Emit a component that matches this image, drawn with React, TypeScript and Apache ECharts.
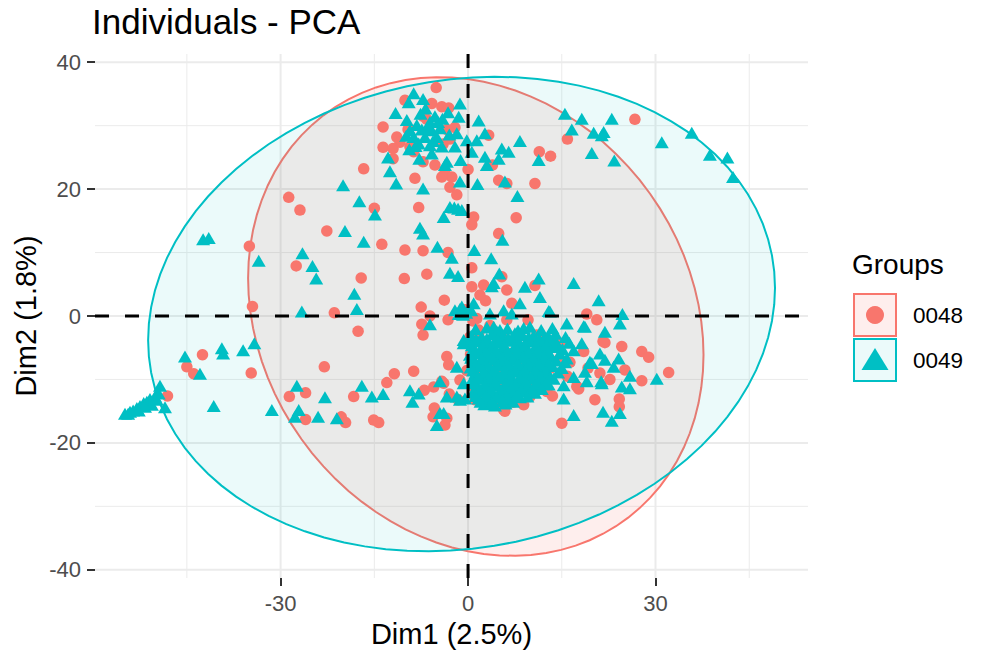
import React, { useEffect, useRef } from "react";
import * as echarts from "echarts";

const groups = ["0048", "0049"];
const colors = ["#F8766D", "#00BFC4"];
const dim1Ticks = [-30, 0, 30];
const dim2Ticks = [-40, -20, 0, 20, 40];
const dim1Minor = [-45, -15, 15, 45];
const dim2Minor = [-30, -10, 10, 30];
const dim1Range = [-59.7, 54.4];
const dim2Range = [-41.3, 41.3];
// ellipse: centre x, centre y, half-width, half-height, cos(phase)
const ellipse0048 = [1.24, -0.08, 36.44, 37.72, -0.16];
const ellipse0049 = [-1.04, 0.31, 50.16, 37.4, 0.11];

const points0048 = [
  [-5.1, 36.0], [-10.1, 34.0], [-5.8, 33.5], [-4.2, 33.0], [-3.1, 32.8], [-7.2, 31.5], [-6.6, 31.0],
  [-13.6, 29.8], [-9.6, 29.4], [-11.4, 28.2], [-10.9, 27.4], [-3.4, 29.4], [-2.1, 29.7], [-2.9, 27.9],
  [-4.0, 27.1], [-13.6, 26.6], [-12.0, 26.4], [-12.0, 24.8], [-9.3, 26.7], [-8.7, 25.9], [-7.2, 24.3],
  [-5.3, 23.8], [-3.7, 22.5], [-2.6, 21.9], [-4.2, 21.9], [-2.9, 20.3], [-1.8, 19.1], [0.0, 23.1],
  [3.3, 28.5], [3.9, 23.8], [4.9, 21.4], [6.2, 20.9], [10.7, 20.9], [11.4, 25.9], [13.2, 25.2],
  [-8.5, 21.7], [-7.9, 17.1], [-16.7, 23.2], [-15.0, 17.0], [-28.7, 18.7], [-26.9, 16.7], [-22.6, 13.4],
  [-13.8, 11.3], [-35.0, 11.0], [-10.1, 10.4], [-7.2, 10.3], [-27.5, 7.9], [-17.1, 6.0], [-10.2, 5.9],
  [-6.6, 6.6], [-3.8, 2.5], [0.6, 7.6], [-34.5, 1.5], [-21.4, 0.5], [-7.5, 1.4], [-6.1, 0.0], [-7.4, -1.3],
  [-17.6, -2.4], [-7.2, -3.0], [-3.2, -0.6], [0.9, 15.6], [0.6, 14.4], [-3.2, 10.0], [0.6, 4.6],
  [26.7, 31.0], [15.9, 27.9], [7.7, 15.5], [4.9, 13.0], [10.7, 4.8], [5.4, 6.2], [19.0, 0.3], [20.6, -0.6],
  [32.1, -8.9], [27.8, -5.6], [28.9, -6.5], [27.8, -10.2], [24.6, -4.8], [25.1, -8.5], [24.2, -13.1],
  [24.2, -14.3], [20.3, -13.2], [15.0, -16.9], [22.7, -10.0], [21.9, -4.2], [21.1, -9.0], [17.7, -11.5],
  [5.9, -15.0], [8.9, -14.0], [9.9, -12.7], [11.0, -3.0], [9.6, -0.6], [14.5, -6.9], [18.5, -5.6],
  [-3.4, -6.4], [-3.1, -7.7], [-3.9, -10.6], [-3.0, -12.3], [-3.4, -16.1], [-3.7, -17.2], [1.4, -0.4],
  [0.3, -3.3], [1.7, -2.7], [6.2, -0.6], [2.5, -4.3], [4.9, -8.5], [-1.3, -10.1], [-1.6, -13.2],
  [1.1, -13.2], [5.7, -14.8], [12.6, -11.9], [2.5, 4.9], [6.2, 4.1], [1.9, 3.3], [7.0, 2.0], [1.7, -2.2],
  [1.4, -3.8], [17.4, -11.1], [21.6, -4.0], [6.2, -3.8], [6.7, -5.9],
  [0.8, -0.8], [-0.5, 1.0], [2.8, 2.4], [3.5, -1.5], [0.4, -6.0], [-0.2, -8.6], [0.6, -11.0], [3.0, -12.8],
  [4.3, -13.9], [7.2, -13.6], [10.3, -11.6], [13.2, -8.2], [15.9, -9.5], [14.8, -4.3], [12.0, -5.4],
  [8.4, -6.8], [5.3, -10.6], [2.2, -9.4], [9.5, -9.3], [11.8, -10.4], [16.3, -7.3], [19.2, -8.2],
  [13.5, -12.6], [3.6, -7.0], [7.5, -11.0],
  [-42.5, -6.1], [-45.0, -8.0], [-43.9, -9.1], [-48.1, -12.6], [-34.7, -9.0], [-23.0, -8.0], [-28.6, -12.7],
  [-26.0, -12.1], [-26.0, -16.3], [-20.3, -15.9], [-19.6, -16.8], [-18.3, -12.7], [-15.1, -16.4],
  [-14.3, -16.8], [-13.0, -10.5], [-11.8, -9.1], [-8.7, -8.7], [-7.0, -11.7], [-5.5, -11.2], [-4.2, -10.3],
  [-5.4, -14.5], [-5.6, -15.9],
];

const points0049 = [
  [-8.7, 35.1], [-9.5, 33.7], [-7.2, 34.2], [-1.3, 33.5], [-11.6, 32.0], [-9.8, 30.9], [-3.2, 32.1],
  [-1.5, 31.4], [1.7, 30.8], [-5.3, 31.5], [-6.1, 30.6], [-4.8, 30.6], [-9.3, 29.3], [-7.4, 29.4],
  [-5.8, 29.3], [-4.5, 29.6], [-8.7, 28.2], [-6.9, 28.2], [-5.0, 28.2], [-1.8, 28.8], [-7.9, 27.2],
  [-6.1, 26.9], [-4.2, 26.7], [-9.4, 26.3], [-2.1, 26.7], [-0.2, 27.7], [2.7, 28.8], [1.4, 27.7],
  [8.3, 27.6], [0.6, 25.9], [2.7, 25.1], [5.4, 26.4], [6.5, 25.9], [4.9, 24.8], [11.3, 24.6],
  [-12.8, 25.0], [-7.8, 24.8], [-5.8, 25.6], [-3.4, 24.3], [-1.2, 24.6], [-3.7, 23.8], [3.0, 23.8],
  [-8.2, 30.1], [-6.4, 29.8], [-7.6, 31.9], [-4.1, 31.1], [-5.6, 27.6], [-8.4, 26.8], [-3.0, 28.6],
  [-9.9, 28.4], [-6.8, 32.7],
  [-12.5, 22.8], [-11.5, 20.9], [-7.2, 20.1], [-1.3, 21.2], [1.5, 20.8], [5.9, 21.2], [7.9, 18.9],
  [-2.9, 17.2], [-2.2, 17.1], [-1.6, 16.9], [-1.0, 16.7], [-20.0, 20.6], [-17.4, 18.1], [-14.9, 16.0],
  [-3.9, 15.6], [-42.4, 12.1], [-41.5, 12.3], [-19.7, 13.4], [-7.7, 13.9], [-7.2, 13.0], [-16.7, 11.7],
  [-26.5, 9.9], [-33.5, 8.7], [-24.9, 7.9], [-24.3, 5.9], [-4.9, 10.9], [-2.6, 9.2], [1.0, 10.4],
  [-2.9, 6.8], [-1.6, 6.3], [-18.2, 3.5], [-17.8, 1.1], [-26.6, 0.7], [-1.3, 1.1], [-0.8, 0.2], [-6.1, -1.3],
  [15.5, 31.9], [18.2, 31.1], [23.0, 31.1], [16.6, 29.4], [20.1, 28.9], [21.7, 29.0], [21.4, 28.5],
  [19.8, 25.7], [23.4, 24.5], [31.0, 27.4], [35.8, 28.9], [38.7, 25.4], [41.5, 25.0], [42.4, 21.9],
  [5.5, 12.0], [3.7, 9.1], [5.0, 6.7], [3.8, 4.7], [11.3, 5.9], [9.1, 4.6], [16.9, 5.2], [11.5, 3.0],
  [20.9, 2.5], [12.9, 0.8], [24.7, 0.3], [24.3, -1.2], [8.3, 2.0], [4.1, 5.2], [0.9, 2.0], [3.5, 0.4],
  [5.7, 0.9], [7.0, 0.4], [13.1, 0.7], [-1.0, 1.5], [-2.1, 0.9], [-0.3, 0.5], [0.5, 0.9], [-1.5, 0.3],
  [30.2, -9.9], [25.9, -9.4], [25.9, -11.4], [24.3, -15.3], [23.0, -16.5], [21.6, -15.1], [16.9, -15.6],
  [15.3, -13.0], [23.3, -8.0], [24.1, -6.7], [21.3, -10.3], [21.9, -6.9], [21.1, -5.9], [21.9, -2.5],
  [18.5, -1.6], [15.8, -1.2], [18.2, -4.3], [19.5, -7.2], [18.7, -8.8], [19.0, -10.3], [16.9, -5.4],
  [15.8, -6.7], [16.9, -9.6], [15.3, -10.9], [12.9, -3.3], [13.9, -4.1], [8.9, -1.9], [7.5, -2.7],
  [5.1, -2.2], [4.1, -1.7], [18.7, -1.7], [24.6, -11.1], [21.4, -10.6], [19.8, -7.4], [9.7, -3.3],
  [11.5, -4.0], [-3.4, -12.7], [-1.8, -12.7], [-0.5, -13.0], [-3.9, -15.3], [-0.7, -3.8], [0.6, -6.4],
  [1.2, -2.1], [3.0, -1.8], [4.6, -2.4], [6.3, -2.0], [8.0, -2.3], [9.9, -1.7], [11.7, -2.2], [13.5, -1.9],
  [0.5, -3.1], [2.2, -3.3], [3.8, -2.9], [5.5, -3.2], [7.2, -3.4], [8.7, -3.0], [10.5, -3.1], [12.2, -3.5],
  [14.0, -2.8], [15.6, -3.3], [0.1, -4.2], [1.6, -4.0], [3.1, -4.4], [4.9, -4.1], [6.6, -3.9], [8.1, -4.3],
  [9.6, -4.0], [11.1, -4.4], [12.7, -4.0], [14.3, -4.5], [16.2, -4.2], [0.9, -5.1], [2.5, -5.3], [4.0, -4.9],
  [5.7, -5.2], [7.4, -5.0], [9.1, -5.4], [10.7, -5.1], [12.3, -5.3], [13.8, -4.9], [15.1, -5.2], [0.3, -6.1],
  [1.9, -5.9], [3.4, -6.2], [5.1, -6.0], [6.8, -6.3], [8.4, -5.9], [10.0, -6.2], [11.6, -6.0], [13.2, -6.3],
  [14.7, -5.9], [1.0, -7.0], [2.7, -7.2], [4.3, -6.9], [5.9, -7.1], [7.6, -6.8], [9.3, -7.2],
  [10.9, -6.9], [12.5, -7.1], [14.1, -7.0], [15.5, -7.3], [0.4, -8.1], [2.0, -7.9], [3.6, -8.2], [5.3, -7.8],
  [7.0, -8.1], [8.6, -8.3], [10.2, -7.9], [11.9, -8.2], [13.5, -7.9], [15.0, -8.2], [1.2, -9.0],
  [2.9, -9.2], [4.6, -8.9], [6.2, -9.1], [7.9, -8.8], [9.5, -9.2], [11.2, -9.0], [12.8, -9.3], [14.4, -8.9],
  [0.6, -10.1], [2.3, -9.9], [3.9, -10.2], [5.5, -9.8], [7.2, -10.1], [8.8, -10.3], [10.5, -9.9], [12.1, -10.2],
  [13.7, -9.9], [1.4, -11.0], [3.1, -11.2], [4.7, -10.9], [6.4, -11.1], [8.0, -11.3], [9.6, -10.9], [11.3, -11.1],
  [12.9, -10.8], [0.8, -12.1], [2.5, -11.9], [4.1, -12.2], [5.8, -12.0], [7.4, -12.3], [9.1, -11.9], [10.7, -12.1],
  [1.7, -13.0], [3.4, -13.2], [5.0, -12.9], [6.6, -13.1], [8.3, -12.8], [2.6, -13.9], [4.3, -14.1], [6.0, -13.8],
  [1.3, -3.7], [3.0, -3.6], [4.7, -3.8], [6.4, -3.5], [7.9, -3.7], [9.7, -3.8], [11.4, -3.6], [13.1, -3.8],
  [0.6, -4.6], [2.3, -4.7], [4.0, -4.5], [5.8, -4.6], [7.5, -4.8], [9.2, -4.6], [10.9, -4.7], [12.6, -4.5],
  [1.2, -5.6], [2.8, -5.7], [4.5, -5.5], [6.2, -5.7], [7.9, -5.5], [9.6, -5.8], [11.2, -5.6], [12.9, -5.7],
  [0.5, -6.6], [2.2, -6.7], [3.9, -6.5], [5.5, -6.6], [7.2, -6.7], [8.9, -6.5], [10.5, -6.7], [12.1, -6.6],
  [1.3, -7.6], [2.9, -7.5], [4.7, -7.7], [6.3, -7.5], [8.0, -7.6], [9.7, -7.7], [11.3, -7.5], [12.9, -7.6],
  [0.8, -8.6], [2.5, -8.7], [4.1, -8.5], [5.8, -8.6], [7.5, -8.7], [9.1, -8.5], [10.7, -8.6], [12.4, -8.7],
  [1.6, -9.5], [3.3, -9.6], [5.0, -9.7], [6.6, -9.5], [8.3, -9.6], [10.0, -9.7], [11.6, -9.5], [13.2, -9.6],
  [1.0, -10.6], [2.7, -10.7], [4.3, -10.5], [6.0, -10.6], [7.6, -10.7], [9.2, -10.5], [10.9, -10.6], [12.5, -10.7],
  [1.9, -11.5], [3.6, -11.6], [5.2, -11.7], [6.9, -11.5], [8.5, -11.6], [10.2, -11.7], [11.8, -11.5],
  [1.2, -12.6], [2.9, -12.5], [4.6, -12.7], [6.2, -12.6], [7.9, -12.5], [9.5, -12.7],
  [2.0, -13.5], [3.8, -13.6], [5.5, -13.4], [7.2, -13.5],
  [-45.3, -6.4], [-42.9, -9.1], [-39.4, -5.1], [-39.2, -5.9], [-36.0, -5.4], [-34.2, -4.3], [-40.7, -14.2],
  [-48.5, -14.4], [-49.3, -11.0], [-54.9, -15.4], [-54.1, -15.1], [-53.6, -14.9], [-53.0, -14.5], [-52.5, -14.2],
  [-51.9, -13.7], [-51.4, -13.5], [-50.9, -13.1], [-50.1, -12.7], [-49.5, -12.2], [-49.8, -13.2], [-50.6, -14.0],
  [-51.7, -14.3], [-52.7, -14.9], [-54.4, -15.4], [-31.4, -14.8], [-27.4, -11.0], [-27.1, -14.8], [-27.7, -15.9],
  [-22.9, -12.8], [-24.0, -15.9], [-21.0, -16.1], [-17.0, -11.0], [-15.4, -12.7], [-13.6, -12.3], [-9.3, -11.7],
  [-8.9, -13.5], [-7.9, -12.2], [-4.5, -10.3], [-4.5, -15.3], [-5.0, -17.2], [-1.0, 0.7], [-0.7, -4.3],
  [-1.8, -8.0], [-0.7, -10.6], [-1.3, -13.2],
];

const FONT = "'Liberation Sans', Arial, Helvetica, sans-serif";

export default function App() {
  const ref = useRef<HTMLDivElement>(null);
  useEffect(() => {
    if (!ref.current) return;
    const chart = echarts.init(ref.current, null, { renderer: "svg" });

    const gridData = [
      ...dim1Ticks.map((v) => [v, 0, 1]),
      ...dim1Minor.map((v) => [v, 0, 0]),
      ...dim2Ticks.map((v) => [v, 1, 1]),
      ...dim2Minor.map((v) => [v, 1, 0]),
    ];

    const ellipseSeries = (e: number[], color: string, fill: string, name: string) => ({
      type: "custom",
      name,
      coordinateSystem: "cartesian2d",
      z: 2,
      silent: true,
      data: [[e[0], e[1]]],
      renderItem: (params: any, api: any) => {
        const [cx, cy, rx, ry, c] = e;
        const phi = Math.acos(c);
        const pts: number[][] = [];
        const n = 90;
        for (let i = 0; i < n; i++) {
          const t = (i / n) * Math.PI * 2;
          pts.push(api.coord([cx + rx * Math.cos(t), cy + ry * Math.cos(t - phi)]));
        }
        return {
          type: "polygon",
          shape: { points: pts },
          style: { fill, stroke: color, lineWidth: 2 },
        };
      },
    });

    const axisCommon = {
      type: "value",
      splitLine: { show: false },
      axisLine: { show: true, onZero: false, lineStyle: { color: "rgba(0,0,0,0)" } },
    };

    const option: any = {
      animation: false,
      grid: { left: 95, right: 180, top: 54, bottom: 80 },
      xAxis: {
        ...axisCommon,
        min: dim1Range[0],
        max: dim1Range[1],
        axisTick: { show: true, customValues: dim1Ticks, length: 8, lineStyle: { color: "#333333", width: 2 } },
        axisLabel: { customValues: dim1Ticks, fontSize: 22, color: "#4D4D4D", margin: 14, fontFamily: FONT },
      },
      yAxis: {
        ...axisCommon,
        min: dim2Range[0],
        max: dim2Range[1],
        axisTick: { show: true, customValues: dim2Ticks, length: 8, lineStyle: { color: "#333333", width: 2 } },
        axisLabel: { customValues: dim2Ticks, fontSize: 22, color: "#4D4D4D", margin: 14, fontFamily: FONT },
      },
      series: [
        {
          type: "custom",
          coordinateSystem: "cartesian2d",
          z: 1,
          silent: true,
          data: gridData,
          renderItem: (params: any, api: any) => {
            const v = api.value(0);
            const o = api.value(1);
            const m = api.value(2);
            const p1 = o === 0 ? api.coord([v, dim2Range[0]]) : api.coord([dim1Range[0], v]);
            const p2 = o === 0 ? api.coord([v, dim2Range[1]]) : api.coord([dim1Range[1], v]);
            return {
              type: "line",
              shape: { x1: p1[0], y1: p1[1], x2: p2[0], y2: p2[1] },
              style: { stroke: "#EBEBEB", lineWidth: m ? 2 : 1 },
            };
          },
        },
        ellipseSeries(ellipse0048, colors[0], "rgba(248,118,109,0.12)", groups[0]),
        ellipseSeries(ellipse0049, colors[1], "rgba(0,191,196,0.08)", groups[1]),
        {
          type: "scatter",
          name: groups[0],
          z: 3,
          data: points0048,
          symbol: "circle",
          symbolSize: 11.5,
          itemStyle: { color: colors[0], opacity: 1 },
        },
        {
          type: "scatter",
          name: groups[1],
          z: 3,
          data: points0049,
          symbol: "triangle",
          symbolSize: [14, 12],
          itemStyle: { color: colors[1], opacity: 1 },
        },
        {
          type: "custom",
          coordinateSystem: "cartesian2d",
          z: 5,
          silent: true,
          data: [[0, 0, 0], [0, 0, 1]],
          renderItem: (params: any, api: any) => {
            const o = api.value(2);
            const p1 = o === 0 ? api.coord([0, dim2Range[0]]) : api.coord([dim1Range[0], 0]);
            const p2 = o === 0 ? api.coord([0, dim2Range[1]]) : api.coord([dim1Range[1], 0]);
            return {
              type: "line",
              shape: { x1: p1[0], y1: p1[1], x2: p2[0], y2: p2[1] },
              style: { stroke: "#000", lineWidth: 3, lineDash: [14, 16] },
            };
          },
        },
      ],
      graphic: [
        {
          type: "text",
          x: 92,
          y: 21,
          style: { text: "Individuals - PCA", font: `35px ${FONT}`, fill: "#000", textAlign: "left", textVerticalAlign: "middle" },
        },
        {
          type: "text",
          x: 451.5,
          y: 634,
          style: { text: "Dim1 (2.5%)", font: `29px ${FONT}`, fill: "#000", textAlign: "center", textVerticalAlign: "middle" },
        },
        {
          type: "text",
          x: 26,
          y: 316,
          rotation: Math.PI / 2,
          style: { text: "Dim2 (1.8%)", font: `29px ${FONT}`, fill: "#000", textAlign: "center", textVerticalAlign: "middle" },
        },
        {
          type: "text",
          x: 852,
          y: 264,
          style: { text: "Groups", font: `28px ${FONT}`, fill: "#000", textAlign: "left", textVerticalAlign: "middle" },
        },
        {
          type: "rect",
          shape: { x: 854, y: 294, width: 42, height: 42 },
          style: { fill: "rgba(248,118,109,0.12)", stroke: colors[0], lineWidth: 2 },
        },
        { type: "circle", shape: { cx: 875, cy: 315, r: 9 }, style: { fill: colors[0] } },
        {
          type: "rect",
          shape: { x: 854, y: 339, width: 42, height: 42 },
          style: { fill: "rgba(0,191,196,0.08)", stroke: colors[1], lineWidth: 2 },
        },
        {
          type: "polygon",
          shape: { points: [[875, 348], [861.5, 370], [888.5, 370]] },
          style: { fill: colors[1] },
        },
        {
          type: "text",
          x: 913,
          y: 315,
          style: { text: groups[0], font: `22.5px ${FONT}`, fill: "#000", textAlign: "left", textVerticalAlign: "middle" },
        },
        {
          type: "text",
          x: 913,
          y: 360,
          style: { text: groups[1], font: `22.5px ${FONT}`, fill: "#000", textAlign: "left", textVerticalAlign: "middle" },
        },
      ],
    };
    chart.setOption(option);
    return () => chart.dispose();
  }, []);
  return <div ref={ref} style={{ position: "absolute", left: 0, top: 0, width: 988, height: 658 }} />;
}
